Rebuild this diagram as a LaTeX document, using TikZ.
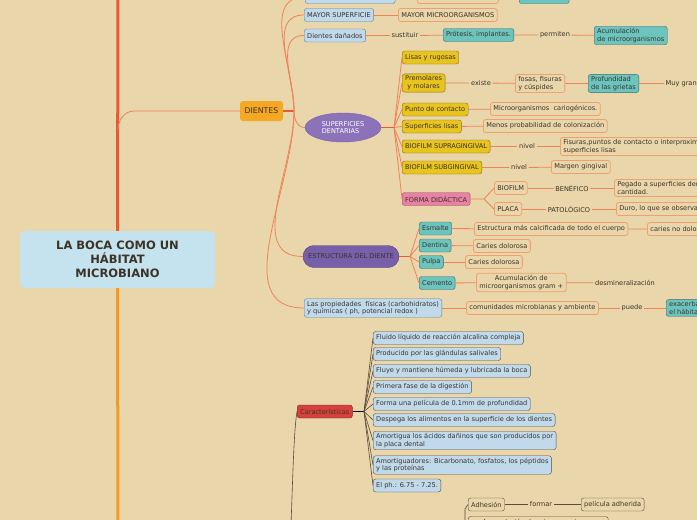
\documentclass[tikz,border=0pt]{standalone}
\usepackage{fontspec}
\setmainfont{DejaVu Sans}
\usetikzlibrary{shapes.geometric}
\definecolor{bg}{RGB}{233,214,170}
\definecolor{txt}{RGB}{60,50,40}
\definecolor{lbfill}{RGB}{192,218,236}
\definecolor{lbdraw}{RGB}{100,130,150}
\definecolor{tlfill}{RGB}{108,196,190}
\definecolor{tldraw}{RGB}{60,110,105}
\definecolor{ylfill}{RGB}{232,196,30}
\definecolor{yldraw}{RGB}{130,110,30}
\definecolor{obox}{RGB}{240,160,110}
\definecolor{lnkc}{RGB}{240,130,90}
\definecolor{pkfill}{RGB}{232,130,165}
\definecolor{pkdraw}{RGB}{150,80,100}
\definecolor{rdfill}{RGB}{215,65,60}
\definecolor{rddraw}{RGB}{120,40,35}
\definecolor{purp}{RGB}{140,115,185}
\definecolor{purpd}{RGB}{120,95,170}
\definecolor{dien}{RGB}{245,168,35}
\definecolor{titlebg}{RGB}{197,227,238}
\definecolor{mainred}{RGB}{232,90,48}
\definecolor{mainor}{RGB}{245,154,32}
\definecolor{dkline}{RGB}{90,75,60}

\begin{document}
\begin{tikzpicture}[x=1pt,y=-1pt,
  every node/.style={font=\fontsize{6.6}{7.8}\selectfont, text=txt},
  box/.style={anchor=west, rounded corners=2.5pt, inner xsep=3pt, inner ysep=2pt, minimum height=13pt, align=left},
  lbbox/.style={box, fill=lbfill, draw=lbdraw},
  tlbox/.style={box, fill=tlfill, draw=tldraw},
  ylbox/.style={box, fill=ylfill, draw=yldraw},
  olbox/.style={box, draw=obox, line width=0.8pt},
  pkbox/.style={box, fill=pkfill, draw=pkdraw},
  dkbox/.style={box, draw=dkline},
  word/.style={inner sep=1.5pt},
  lnk/.style={lnkc, line width=0.8pt},
  dk/.style={dkline, line width=0.6pt}]
\fill[bg] (0,0) rectangle (697,520);
\useasboundingbox (0,0) rectangle (697,520);
\clip (0,0) rectangle (697,520);

\node[fill=titlebg, rounded corners=5pt, minimum width=195pt, minimum height=57pt, align=center,
  font=\fontsize{11.5}{14}\selectfont\bfseries] (boca) at (117.5,259.5) {LA BOCA COMO UN\\HÁBITAT\\MICROBIANO};
\node[fill=dien, rounded corners=3pt, minimum width=43pt, minimum height=20pt, inner sep=1pt,
  font=\fontsize{7.8}{9}\selectfont] (dientes) at (261.5,111) {DIENTES};

\node[lbbox, minimum width=90pt] (proc) at (305,-3) {};
\node[olbox, minimum width=81pt] (desq) at (417,-3) {};
\node[tlbox, minimum width=50pt] (enf) at (519,-3) {};
\node[lbbox] (msup) at (304,15) {MAYOR SUPERFICIE};
\node[olbox] (mmic) at (398,15) {MAYOR MICROORGANISMOS};
\node[lbbox] (ddan) at (304,35.5) {Dientes dañados};
\node[word] (sust) at (405,35.5) {sustituir};
\node[tlbox] (prot) at (443,35) {Prótesis, implantes.};
\node[word] (perm) at (555,35) {permiten};
\node[tlbox] (acum) at (594,35.5) {Acumulación\\de microorganismos};

\node[ellipse, fill=purp, draw=purpd, minimum width=76pt, minimum height=29pt, inner sep=0pt,
  align=left, text=white] (sup) at (343,127.5) {SUPERFICIES\\DENTARIAS};
\node[ylbox] (lisas) at (402,57.5) {Lisas y rugosas};
\node[ylbox, align=center] (prem) at (402,83) {Premolares\\y molares};
\node[word] (exis) at (481,83) {existe};
\node[olbox] (fosas) at (515,83.5) {fosas, fisuras\\ y cúspides};
\node[tlbox] (prof) at (588,83.5) {Profundidad\\de las grietas};
\node[word, anchor=west] (muy) at (664,83.5) {Muy grande};
\node[ylbox] (punto) at (402,109.5) {Punto de contacto};
\node[olbox] (micro) at (490,109) {Microorganismos\ \ cariogénicos.};
\node[ylbox] (slis) at (402,126.5) {Superficies lisas};
\node[olbox] (menos) at (483,126) {Menos probabilidad de colonización};
\node[ylbox] (supra) at (402,146.5) {BIOFILM SUPRAGINGIVAL};
\node[word] (niv1) at (527,146.5) {nivel};
\node[olbox] (fis) at (560,146.5) {Fisuras,puntos de contacto o interproximales\\superficies lisas};
\node[ylbox] (subg) at (402,167.5) {BIOFILM SUBGINGIVAL};
\node[word] (niv2) at (519,167.5) {nivel};
\node[olbox] (marg) at (551,167) {Margen gingival};
\node[pkbox] (forma) at (402,199) {FORMA DIDÁCTICA};
\node[olbox] (biof) at (494,188) {BIOFILM};
\node[word] (bene) at (572,188) {BENÉFICO};
\node[olbox] (pega) at (614,188) {Pegado a superficies dentarias\\cantidad.};
\node[olbox] (placa) at (494,209) {PLACA};
\node[word] (pato) at (569,209) {PATOLÓGICO};
\node[olbox] (duro) at (616,209) {Duro, lo que se observa};

\node[fill=purpd, draw=purp!60!black, rounded corners=11pt, minimum width=96pt, minimum height=22pt,
  inner sep=1pt] (estr) at (351,256.5) {ESTRUCTURA DEL DIENTE};
\node[tlbox] (esm) at (419,228.5) {Esmalte};
\node[olbox] (estc) at (474,229) {Estructura más calcificada de todo el cuerpo};
\node[olbox] (cnd) at (647,229) {caries no dolorosa};
\node[tlbox] (dent) at (419,245.5) {Dentina};
\node[olbox] (cd1) at (473,246) {Caries dolorosa};
\node[tlbox] (pulp) at (419,262) {Pulpa};
\node[olbox] (cd2) at (465,262) {Caries dolorosa};
\node[tlbox] (cem) at (419,283) {Cemento};
\node[olbox, align=center] (acg) at (476,282.5) {Acumulación de\\ microorganismos gram +};
\node[word] (desm) at (625,283) {desmineralización};
\node[lbbox] (prop) at (304,308) {Las propiedades\ \ físicas (carbohidratos)\\y químicas ( ph, potencial redox )};
\node[olbox] (comu) at (466,308) {comunidades microbianas y ambiente};
\node[word] (pued) at (632,308) {puede};
\node[tlbox] (exa) at (666,308) {exacerbar\\el hábitat};

\node[box, fill=rdfill, draw=rddraw] (carac) at (297,411.5) {Características};
\node[lbbox, draw=dkline] (c1) at (373,338) {Fluido líquido de reacción alcalina compleja};
\node[lbbox, draw=dkline] (c2) at (373,354) {Producido por las glándulas salivales};
\node[lbbox, draw=dkline] (c3) at (373,371) {Fluye y mantiene húmeda y lubricada la boca};
\node[lbbox, draw=dkline] (c4) at (373,387) {Primera fase de la digestión};
\node[lbbox, draw=dkline] (c5) at (373,404) {Forma una película de 0.1mm de profundidad};
\node[lbbox, draw=dkline] (c6) at (373,420) {Despega los alimentos en la superficie de los dientes};
\node[lbbox, draw=dkline] (c7) at (373,440.5) {Amortigua los ácidos dañinos que son producidos por\\la placa dental};
\node[lbbox, draw=dkline] (c8) at (373,465) {Amortiguadores: Bicarbonato, fosfatos, los péptidos\\y las proteínas};
\node[lbbox, draw=dkline] (c9) at (373,485.5) {El ph.: 6.75 - 7.25.};
\node[dkbox] (adh) at (468,504.5) {Adhesión};
\node[word] (form) at (541,504.5) {formar};
\node[dkbox] (pel) at (581,504.5) {película adherida};
\node[dkbox, minimum width=140pt] (acx) at (468,523) {Acumulación de microorganismos};

\draw[mainred, line width=3pt] (118,-5) -- (boca.north);
\draw[mainor, line width=3pt] (boca.south) -- (118,525);
\draw[lnk] (118,130) to[out=90,in=180] (134,111) -- (dientes.west);

\coordinate (dj) at (294,111);
\draw[mainred, line width=1.5pt] (dientes.east) -- (dj);
\foreach \c in {proc,msup,ddan}
  \draw[lnk] (dj) to[out=90,in=180] (\c.west);
\foreach \c in {sup,estr,prop}
  \draw[lnk] (dj) to[out=-90,in=180] (\c.west);
\draw[lnk] (proc) -- (desq) (desq) -- (enf);
\draw[lnk] (msup) -- (mmic);
\draw[lnk] (ddan) -- (sust) (sust) -- (prot) (prot) -- (perm) (perm) -- (acum);

\coordinate (sj) at (394,127.5);
\draw[mainred, line width=1.2pt] (sup.east) -- (sj);
\foreach \c in {lisas,prem,punto,slis,supra,subg,forma}
  \draw[lnk] (sj) -- (\c.west);
\draw[lnk] (prem) -- (exis) (exis) -- (fosas) (fosas) -- (prof) (prof) -- (muy);
\draw[lnk] (punto) -- (micro);
\draw[lnk] (slis) -- (menos);
\draw[lnk] (supra) -- (niv1) (niv1) -- (fis);
\draw[lnk] (subg) -- (niv2) (niv2) -- (marg);
\coordinate (fj) at (484,199);
\draw[lnk] (forma.east) -- (fj) -- (biof.west) (fj) -- (placa.west);
\draw[lnk] (biof) -- (bene) (bene) -- (pega);
\draw[lnk] (placa) -- (pato) (pato) -- (duro);

\coordinate (ej) at (410,256.5);
\draw[mainred, line width=1.2pt] (estr.east) -- (ej);
\foreach \c in {esm,dent,pulp,cem}
  \draw[lnk] (ej) -- (\c.west);
\draw[lnk] (esm) -- (estc) (estc) -- (cnd);
\draw[lnk] (dent) -- (cd1);
\draw[lnk] (pulp) -- (cd2);
\draw[lnk] (cem) -- (acg) (acg) -- (desm);
\draw[lnk] (prop) -- (comu) (comu) -- (pued) (pued) -- (exa);

\draw[dk] (291,525) .. controls (293,470) and (294,430) .. (carac.west);
\coordinate (cj) at (364,411.5);
\draw[black, line width=1.5pt] (carac.east) -- (cj);
\foreach \c in {c1,c2,c3,c4,c5,c6,c7,c8,c9}
  \draw[dk] (cj) -- (\c.west);
\draw[dk] (465,525) -- (465,509) -- (adh.west);
\draw[dk] (adh) -- (form) (form) -- (pel);
\end{tikzpicture}
\end{document}
